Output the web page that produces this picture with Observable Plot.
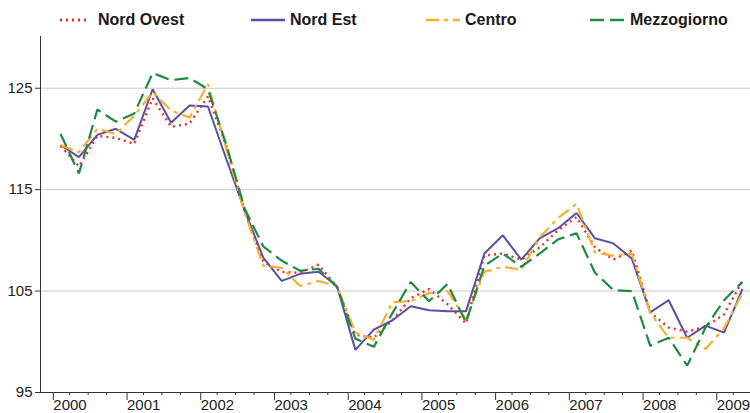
<!DOCTYPE html>
<html>
<head>
<meta charset="utf-8">
<script src="https://cdn.jsdelivr.net/npm/d3@7"></script>
<script src="https://cdn.jsdelivr.net/npm/@observablehq/plot@0.6"></script>
<style>
  html, body { margin: 0; padding: 0; background: #fff; }
  body { width: 750px; height: 413px; overflow: hidden; font-family: "Liberation Sans", Arial, sans-serif; }
  #legend { position: relative; height: 30px; width: 750px; }
  .item { position: absolute; top: 10px; height: 20px; display: flex; align-items: center; }
  .item span { font-weight: bold; font-size: 16px; color: #1a1a1a; margin-left: 8px; }
  #chart svg { display: block; }
</style>
</head>
<body>
<div id="legend"></div>
<div id="chart"></div>
<script>
const quarters = [
  "2000Q1","2000Q2","2000Q3","2000Q4","2001Q1","2001Q2","2001Q3","2001Q4",
  "2002Q1","2002Q2","2002Q3","2002Q4","2003Q1","2003Q2","2003Q3","2003Q4",
  "2004Q1","2004Q2","2004Q3","2004Q4","2005Q1","2005Q2","2005Q3","2005Q4",
  "2006Q1","2006Q2","2006Q3","2006Q4","2007Q1","2007Q2","2007Q3","2007Q4",
  "2008Q1","2008Q2","2008Q3","2008Q4","2009Q1","2009Q2"
];
const nordOvest = [119.3,117.3,120.3,120.1,119.5,124.0,121.2,121.5,124.2,119.3,112.8,107.9,106.9,106.8,107.6,105.4,100.7,100.4,102.1,104.3,105.2,103.7,101.8,108.5,108.7,108.1,109.3,111.0,112.3,109.3,108.1,109.0,102.9,101.4,101.0,101.5,102.7,106.0];
const nordEst   = [119.4,118.2,120.4,121.0,119.9,124.9,121.6,123.3,123.2,118.0,112.9,108.3,106.0,106.7,106.9,105.5,99.2,101.2,102.1,103.5,103.1,103.0,103.0,108.7,110.5,108.1,110.2,111.2,112.7,110.2,109.7,108.2,102.9,104.1,100.4,101.6,100.9,105.2];
const centro    = [119.4,118.7,121.0,120.5,122.3,124.6,122.8,122.1,125.4,119.0,112.7,107.5,107.3,105.5,106.0,105.5,100.9,100.2,103.9,104.0,104.8,105.0,102.2,106.9,107.4,107.1,110.3,112.2,113.6,108.8,108.5,108.7,102.8,100.4,100.4,99.3,101.3,104.8];
const mezzogiorno = [120.5,116.6,122.9,121.7,122.5,126.5,125.8,126.0,124.9,119.4,113.1,109.4,108.0,107.0,107.2,105.4,100.3,99.5,102.8,105.9,104.0,105.7,101.9,107.5,108.7,107.4,108.7,110.1,110.7,106.8,105.1,105.0,99.6,100.4,97.65,101.4,104.1,105.9];
const yearTicks = [2000,2001,2002,2003,2004,2005,2006,2007,2008,2009];
const yTicks = [95,105,115,125];

const seriesDefs = [
  {name: "Nord Ovest", values: nordOvest, color: "#e8302c", dash: "2,4", width: 2.4},
  {name: "Nord Est", values: nordEst, color: "#5a4fa2", dash: null, width: 2},
  {name: "Centro", values: centro, color: "#f7b02e", dash: "13,5,4,5", width: 2.2},
  {name: "Mezzogiorno", values: mezzogiorno, color: "#1e8a3f", dash: "14,6", width: 2.2}
];

const qx = q => { const [y, k] = q.split("Q"); return +y + (+k - 0.5) / 4; };
const minorTicks = [];
yearTicks.forEach(y => [0.25, 0.5, 0.75].forEach(f => minorTicks.push(y + f)));

const x0 = 1999.8535, x1 = 2009.4845;

const lineMarks = seriesDefs.map(s =>
  Plot.line(quarters.map((q, i) => ({x: qx(q), y: s.values[i]})), {
    x: "x", y: "y", stroke: s.color, strokeWidth: s.width,
    strokeDasharray: s.dash || undefined, strokeLinejoin: "miter", strokeLinecap: "butt"
  })
);

const chart = Plot.plot({
  width: 750, height: 383,
  marginLeft: 40, marginRight: 0, marginTop: 6, marginBottom: 21,
  style: {fontFamily: "'Liberation Sans', Arial, sans-serif", color: "#222", background: "#fff"},
  x: {type: "linear", domain: [x0, x1], axis: null, label: null},
  y: {domain: [95, 130.1], axis: null, label: null},
  marks: [
    Plot.ruleY([105, 115, 125], {stroke: "#c9c9c9", strokeWidth: 1}),
    Plot.axisY({ticks: yTicks, tickSize: 5, tickPadding: 3, fontSize: 15, stroke: "#333", fill: "#222", label: null}),
    Plot.axisX({ticks: yearTicks, tickSize: 8, tickPadding: -1, textAnchor: "start", dx: 2,
                tickFormat: d => String(d), fontSize: 15, stroke: "#333", fill: "#222", label: null}),
    Plot.axisX({ticks: minorTicks.filter(t => t < x1), tickSize: 3, tickFormat: () => "", stroke: "#333", label: null}),
    ...lineMarks,
    Plot.ruleY([95], {stroke: "#333", strokeWidth: 1}),
    Plot.ruleX([x0], {stroke: "#333", strokeWidth: 1})
  ]
});
document.getElementById("chart").appendChild(chart);

// legend
const legendPos = [60, 251, 426, 590];
const legend = document.getElementById("legend");
seriesDefs.forEach((s, i) => {
  const div = document.createElement("div");
  div.className = "item";
  div.style.left = legendPos[i] + "px";
  const w = i === 0 ? 30 : 34;
  div.innerHTML = `<svg width="${w}" height="10"><line x1="0" y1="5" x2="${w}" y2="5" stroke="${s.color}" stroke-width="${s.width + 0.4}" ${s.dash ? `stroke-dasharray="${s.dash}"` : ""}/></svg><span>${s.name}</span>`;
  if (i === 1) div.querySelector("span").style.marginLeft = "5px";
  if (i === 2) div.querySelector("span").style.marginLeft = "5px";
  if (i === 3) div.querySelector("span").style.marginLeft = "6px";
  legend.appendChild(div);
});
</script>
</body>
</html>
